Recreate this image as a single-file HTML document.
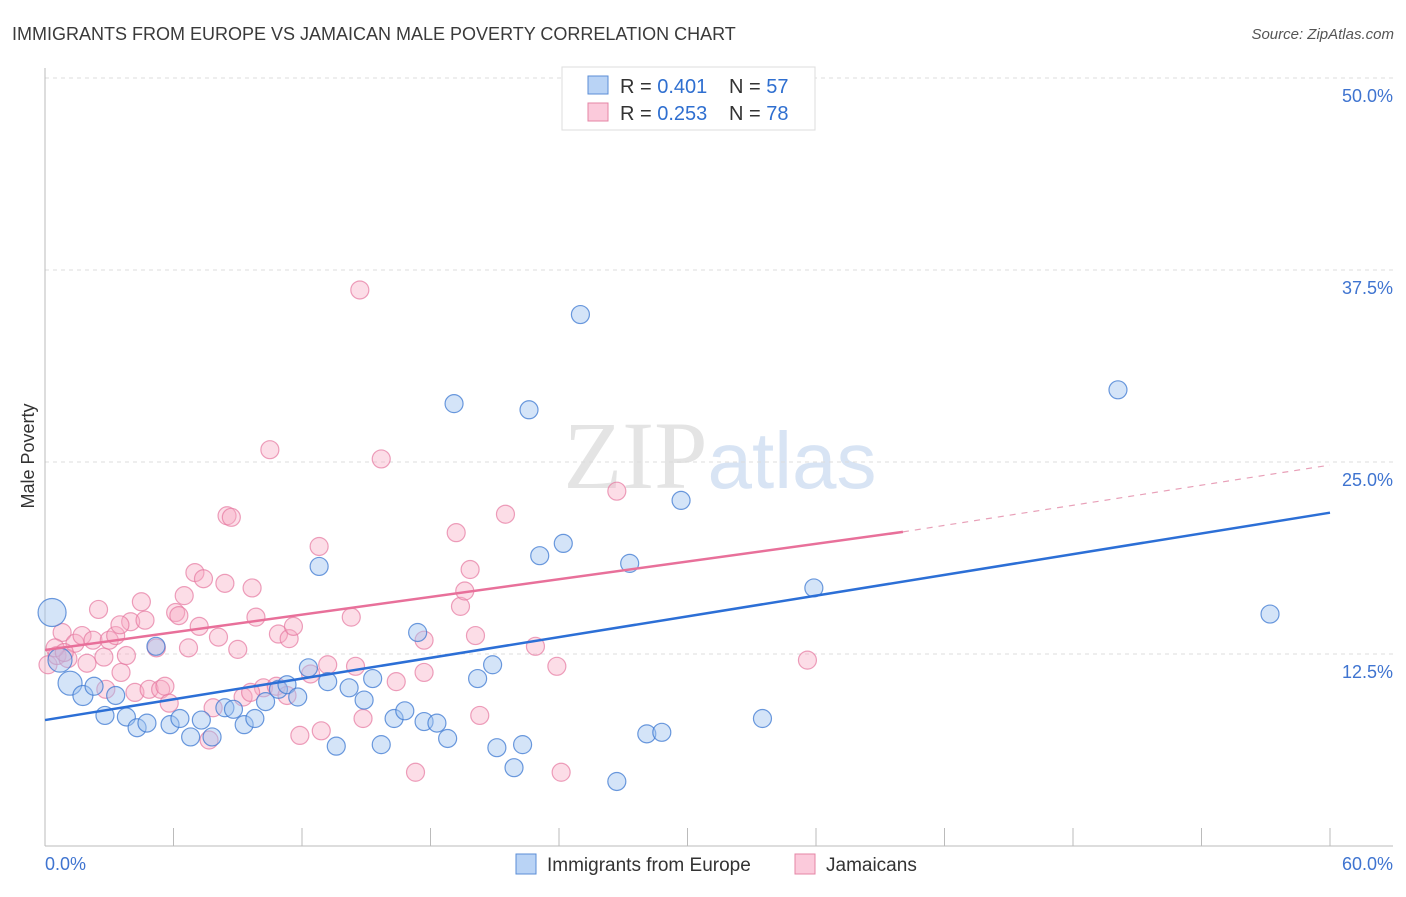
<!DOCTYPE html>
<html><head><meta charset="utf-8"><style>
body{margin:0;background:#fff;font-family:"Liberation Sans",sans-serif}
</style></head><body>
<svg width="1406" height="892" xmlns="http://www.w3.org/2000/svg" font-family="Liberation Sans, sans-serif">
<text x="12" y="40" font-size="18" fill="#3a3a3a">IMMIGRANTS FROM EUROPE VS JAMAICAN MALE POVERTY CORRELATION CHART</text>
<text x="1394" y="39" font-size="15" fill="#555" text-anchor="end" font-style="italic">Source: ZipAtlas.com</text>
<text x="720" y="488" font-size="96" text-anchor="middle" fill="#e4e4e4" font-family="Liberation Serif, serif">ZIP<tspan fill="#d8e4f4" font-family="Liberation Sans, sans-serif" font-size="80">atlas</tspan></text>
<g id="grid"></g>
<g id="axes"></g>
<g id="points"></g>
<g id="lines"></g>
<text transform="translate(34,456) rotate(-90)" font-size="18" fill="#333" text-anchor="middle">Male Poverty</text>
<g>
<rect x="562" y="67" width="253" height="63" fill="#fff" stroke="#ddd"/>
<rect x="588" y="76" width="20" height="18" fill="#b9d3f5" stroke="#5b8ed6"/>
<rect x="588" y="103" width="20" height="18" fill="#fbcadb" stroke="#e585a6"/>
<text x="620" y="93" font-size="20" fill="#333">R = <tspan fill="#2f6fd0">0.401</tspan></text>
<text x="729" y="93" font-size="20" fill="#333">N = <tspan fill="#2f6fd0">57</tspan></text>
<text x="620" y="120" font-size="20" fill="#333">R = <tspan fill="#2f6fd0">0.253</tspan></text>
<text x="729" y="120" font-size="20" fill="#333">N = <tspan fill="#2f6fd0">78</tspan></text>
</g>
<g>
<rect x="516" y="854" width="20" height="20" fill="#b9d3f5" stroke="#5b8ed6"/>
<text x="547" y="871" font-size="19" fill="#333">Immigrants from Europe</text>
<rect x="795" y="854" width="20" height="20" fill="#fbcadb" stroke="#e585a6"/>
<text x="826" y="871" font-size="19" fill="#333">Jamaicans</text>
</g>
</svg>
<script>
const blueX=[0.33,1.17,0.7,1.77,2.29,2.8,3.3,3.8,4.3,4.76,5.18,5.84,6.3,6.8,7.3,7.8,8.4,8.8,9.3,9.8,10.3,10.9,11.3,11.8,12.3,12.8,13.2,13.6,14.2,14.9,15.3,15.7,16.3,16.8,17.4,17.7,18.3,18.8,19.1,20.2,20.9,21.1,21.9,22.3,22.6,23.1,24.2,25.0,26.7,27.3,28.1,28.8,29.7,33.5,35.9,50.1,57.2];
const blueY=[15.2,10.6,12.1,9.8,10.4,8.5,9.8,8.4,7.7,8.0,13.0,7.9,8.3,7.1,8.2,7.1,9.0,8.9,7.9,8.3,9.4,10.2,10.5,9.7,11.6,18.2,10.7,6.5,10.3,9.5,10.9,6.6,8.3,8.8,13.9,8.1,8.0,7.0,28.8,10.9,11.8,6.4,5.1,6.6,28.4,18.9,19.7,34.6,4.2,18.4,7.3,7.4,22.5,8.3,16.8,29.7,15.1];
const blueSize=[14,12,12,10,9,9,9,9,9,9,9,9,9,9,9,9,9,9,9,9,9,9,9,9,9,9,9,9,9,9,9,9,9,9,9,9,9,9,9,9,9,9,9,9,9,9,9,9,9,9,9,9,9,9,9,9,9];
const pinkX=[0.14,0.56,0.8,1.07,1.4,1.73,1.96,2.24,2.5,2.75,3.0,3.3,3.55,3.8,4.0,4.2,4.5,4.67,4.86,5.2,5.4,5.6,5.8,6.1,6.25,6.5,6.7,7.0,7.2,7.4,7.66,7.85,8.1,8.4,8.5,8.7,9.0,9.25,9.67,9.85,10.2,10.5,10.8,10.9,11.3,11.4,11.6,11.9,12.4,12.8,12.9,13.2,14.3,14.5,14.7,14.85,15.7,16.4,17.3,17.7,17.7,19.2,19.4,19.6,19.85,20.1,20.3,21.5,22.9,23.9,24.1,26.7,35.6,0.47,0.9,2.84,3.5,9.6];
const pinkY=[11.8,12.4,13.9,12.2,13.2,13.7,11.9,13.4,15.4,12.3,13.4,13.7,11.3,12.4,14.6,10.0,15.9,14.7,10.2,12.9,10.2,10.4,9.3,15.2,15.0,16.3,12.9,17.8,14.3,17.4,6.9,9.0,13.6,17.1,21.5,21.4,12.8,9.7,16.8,14.9,10.3,25.8,10.4,13.8,9.8,13.5,14.3,7.2,11.2,19.5,7.5,11.8,14.9,11.7,36.2,8.3,25.2,10.7,4.8,13.4,11.3,20.4,15.6,16.6,18.0,13.7,8.5,21.6,13.0,11.7,4.8,23.1,12.1,12.9,12.6,10.2,14.4,10.0];
const yTicks=[12.5,25.0,37.5,50.0];
const yTickLabels=["12.5%","25.0%","37.5%","50.0%"];
const xTicks=[0,6,12,18,24,30,36,42,48,54,60];
const blueTrend=[[0,8.2],[60,21.7]];
const pinkTrend=[[0,12.76],[40.06,20.45]];
const pinkTrendDash=[[40.06,20.45],[60,24.8]];

const NS="http://www.w3.org/2000/svg";
const xs=v=>45+v/60*1285;
const ys=v=>846-v/12.5*192;
function mk(tag,attrs,parent){const e=document.createElementNS(NS,tag);for(const k in attrs)e.setAttribute(k,attrs[k]);parent.appendChild(e);return e;}
const grid=document.getElementById('grid'),axes=document.getElementById('axes'),pts=document.getElementById('points'),lines=document.getElementById('lines');
yTicks.forEach((t,i)=>{
  const l=mk('line',{x1:45,x2:1393,y1:ys(t),y2:ys(t),stroke:'#ddd','stroke-dasharray':'4,4'},grid);
  
  
  const tx=mk('text',{x:1393,y:ys(t)+24,'font-size':18,fill:'#3f74d0','text-anchor':'end'},axes);
  tx.textContent=yTickLabels[i];
  
  
});
let a=mk('line',{x1:45,x2:45,y1:68,y2:846,stroke:'#bbb'},axes);


a=mk('line',{x1:45,x2:1393,y1:846,y2:846,stroke:'#bbb'},axes);


xTicks.forEach(t=>{
  const l=mk('line',{x1:xs(t),x2:xs(t),y1:828,y2:846,stroke:'#bbb'},axes);
  
  
});
let t0=mk('text',{x:45,y:870,'font-size':18,fill:'#3f74d0'},axes);t0.textContent='0.0%';


let t1=mk('text',{x:1393,y:870,'font-size':18,fill:'#3f74d0','text-anchor':'end'},axes);t1.textContent='60.0%';


pinkX.forEach((x,i)=>{
  const c=mk('circle',{cx:xs(x),cy:ys(pinkY[i]),r:9,fill:'rgba(248,170,196,0.4)',stroke:'rgba(230,120,160,0.7)','stroke-width':1.2},pts);
  
  
});
blueX.forEach((x,i)=>{
  const c=mk('circle',{cx:xs(x),cy:ys(blueY[i]),r:blueSize[i],fill:'rgba(160,196,240,0.45)',stroke:'rgba(60,120,210,0.75)','stroke-width':1.2},pts);
  
  
});
function ln(p,col,w,dash,name){
  const l=mk('line',{x1:xs(p[0][0]),y1:ys(p[0][1]),x2:xs(p[1][0]),y2:ys(p[1][1]),stroke:col,'stroke-width':w},lines);
  if(dash)l.setAttribute('stroke-dasharray',dash);
  
  
}
ln(blueTrend,'#2c6fd6',2.5,null,'europe-trend-line');
ln(pinkTrend,'#e8709a',2.5,null,'jamaicans-trend-line');
ln(pinkTrendDash,'#e8a0b8',1.2,'6,6','jamaicans-trend-extension');
</script>
</body></html>
